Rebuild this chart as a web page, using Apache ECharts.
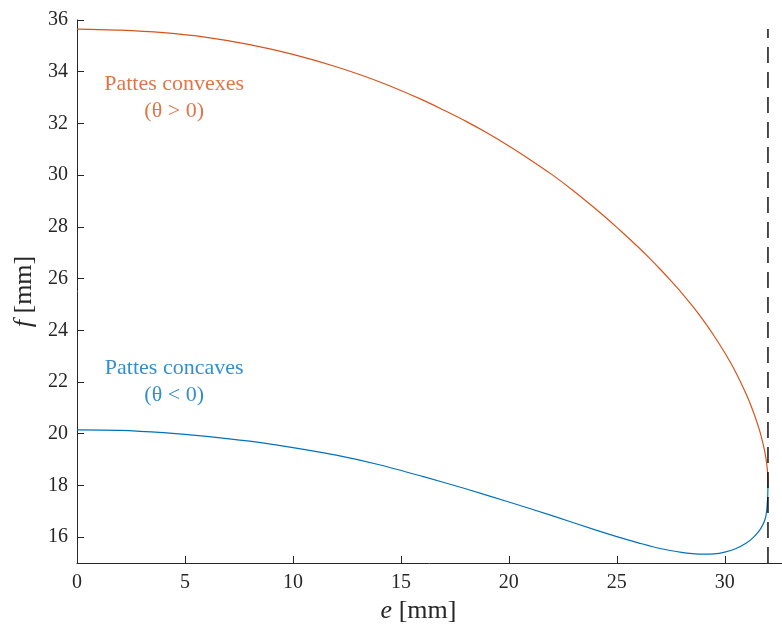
<!DOCTYPE html>
<html>
<head>
<meta charset="utf-8">
<script src="https://cdn.jsdelivr.net/npm/echarts@6/dist/echarts.min.js"></script>
<style>
  html, body { margin: 0; padding: 0; background: #fff; }
  #chart { width: 782px; height: 630px; }
</style>
</head>
<body>
<div id="chart"></div>
<script>
// courbe des pattes convexes (theta > 0)
const convexE = [0, 2, 4, 6, 8, 10, 12, 14, 16, 17, 18, 19, 20, 21, 22, 23, 24, 24.5, 25, 25.5, 26, 26.5, 27, 27.5, 28, 28.5, 29, 29.5, 30, 30.5, 31, 31.3, 31.6, 31.8, 31.9, 31.97, 31.99, 32];
const convexF = [35.65, 35.61, 35.51, 35.33, 35.05, 34.67, 34.19, 33.61, 32.91, 32.51, 32.09, 31.63, 31.13, 30.59, 30.02, 29.39, 28.71, 28.35, 27.98, 27.6, 27.21, 26.8, 26.37, 25.92, 25.45, 24.94, 24.39, 23.79, 23.13, 22.39, 21.52, 20.9, 20.16, 19.51, 19.08, 18.63, 18.4, 18.1];
// courbe des pattes concaves (theta < 0)
const concaveE = [0, 2, 4, 6, 8, 10, 12, 14, 16, 18, 20, 22, 24, 25, 26, 27, 28, 28.5, 29, 29.5, 30, 30.5, 31, 31.3, 31.6, 31.8, 31.9, 31.96, 31.99, 32];
const concaveF = [20.15, 20.13, 20.04, 19.9, 19.71, 19.46, 19.17, 18.8, 18.35, 17.87, 17.36, 16.83, 16.28, 16.02, 15.78, 15.56, 15.41, 15.36, 15.34, 15.35, 15.42, 15.55, 15.77, 15.97, 16.25, 16.55, 16.8, 17.2, 17.6, 18.1];
// limite verticale
const limitE = [32, 32];
const limitF = [15, 35.65];
// ticks
const xTicks = [0, 5, 10, 15, 20, 25, 30];
const yTicks = [16, 18, 20, 22, 24, 26, 28, 30, 32, 34, 36];
// annotations
const notes = [
  { name: 'Pattes convexes\n(θ > 0)', e: 4.5, f: 33.0, color: '#D95319' },
  { name: 'Pattes concaves\n(θ < 0)', e: 4.5, f: 22.0, color: '#0072BD' }
];

const pair = (xs, ys) => xs.map((x, i) => [x, ys[i]]);
const font = 'Liberation Serif';
const axisColor = '#262626';

const chart = echarts.init(document.getElementById('chart'));
chart.setOption({
  animation: false,
  grid: { left: 77, right: 0, top: 20, bottom: 67 },
  xAxis: {
    type: 'value',
    min: 0,
    max: 32.65,
    name: '{i|e} [mm]',
    nameLocation: 'middle',
    nameGap: 33,
    nameTextStyle: {
      fontFamily: font, fontSize: 26, color: axisColor, padding: [0, 22, 0, 0],
      rich: { i: { fontStyle: 'italic', fontFamily: font, fontSize: 26, color: axisColor } }
    },
    axisLine: { lineStyle: { color: axisColor, width: 1 } },
    axisTick: { inside: true, length: 7, customValues: xTicks, lineStyle: { color: axisColor } },
    axisLabel: { customValues: xTicks, fontFamily: font, fontSize: 20, color: axisColor, margin: 10 },
    splitLine: { show: false }
  },
  yAxis: {
    type: 'value',
    min: 15,
    max: 36,
    name: '{i|f} [mm]',
    nameLocation: 'middle',
    nameGap: 39,
    nameRotate: 90,
    nameTextStyle: {
      fontFamily: font, fontSize: 26, color: axisColor,
      rich: { i: { fontStyle: 'italic', fontFamily: font, fontSize: 26, color: axisColor } }
    },
    axisLine: { show: true, lineStyle: { color: axisColor, width: 1 } },
    axisTick: { show: true, inside: true, length: 7, customValues: yTicks, lineStyle: { color: axisColor } },
    axisLabel: { customValues: yTicks, fontFamily: font, fontSize: 20, color: axisColor, margin: 9 },
    splitLine: { show: false }
  },
  series: [
    {
      type: 'line',
      data: pair(convexE, convexF),
      showSymbol: false,
      smooth: 0.3,
      lineStyle: { color: '#D95319', width: 1.2 }
    },
    {
      type: 'line',
      data: pair(concaveE, concaveF),
      showSymbol: false,
      smooth: 0.3,
      lineStyle: { color: '#0072BD', width: 1.2 }
    },
    {
      type: 'line',
      data: pair(limitE, limitF),
      showSymbol: false,
      lineStyle: { color: '#000', width: 1.4, type: [16, 9] }
    },
    {
      type: 'scatter',
      symbolSize: 0,
      data: notes.map(n => ({
        value: [n.e, n.f],
        name: n.name,
        label: {
          show: true,
          position: 'inside',
          formatter: '{b}',
          align: 'center',
          verticalAlign: 'middle',
          fontFamily: font,
          fontSize: 22,
          lineHeight: 27,
          color: n.color
        }
      }))
    }
  ]
});
</script>
</body>
</html>
